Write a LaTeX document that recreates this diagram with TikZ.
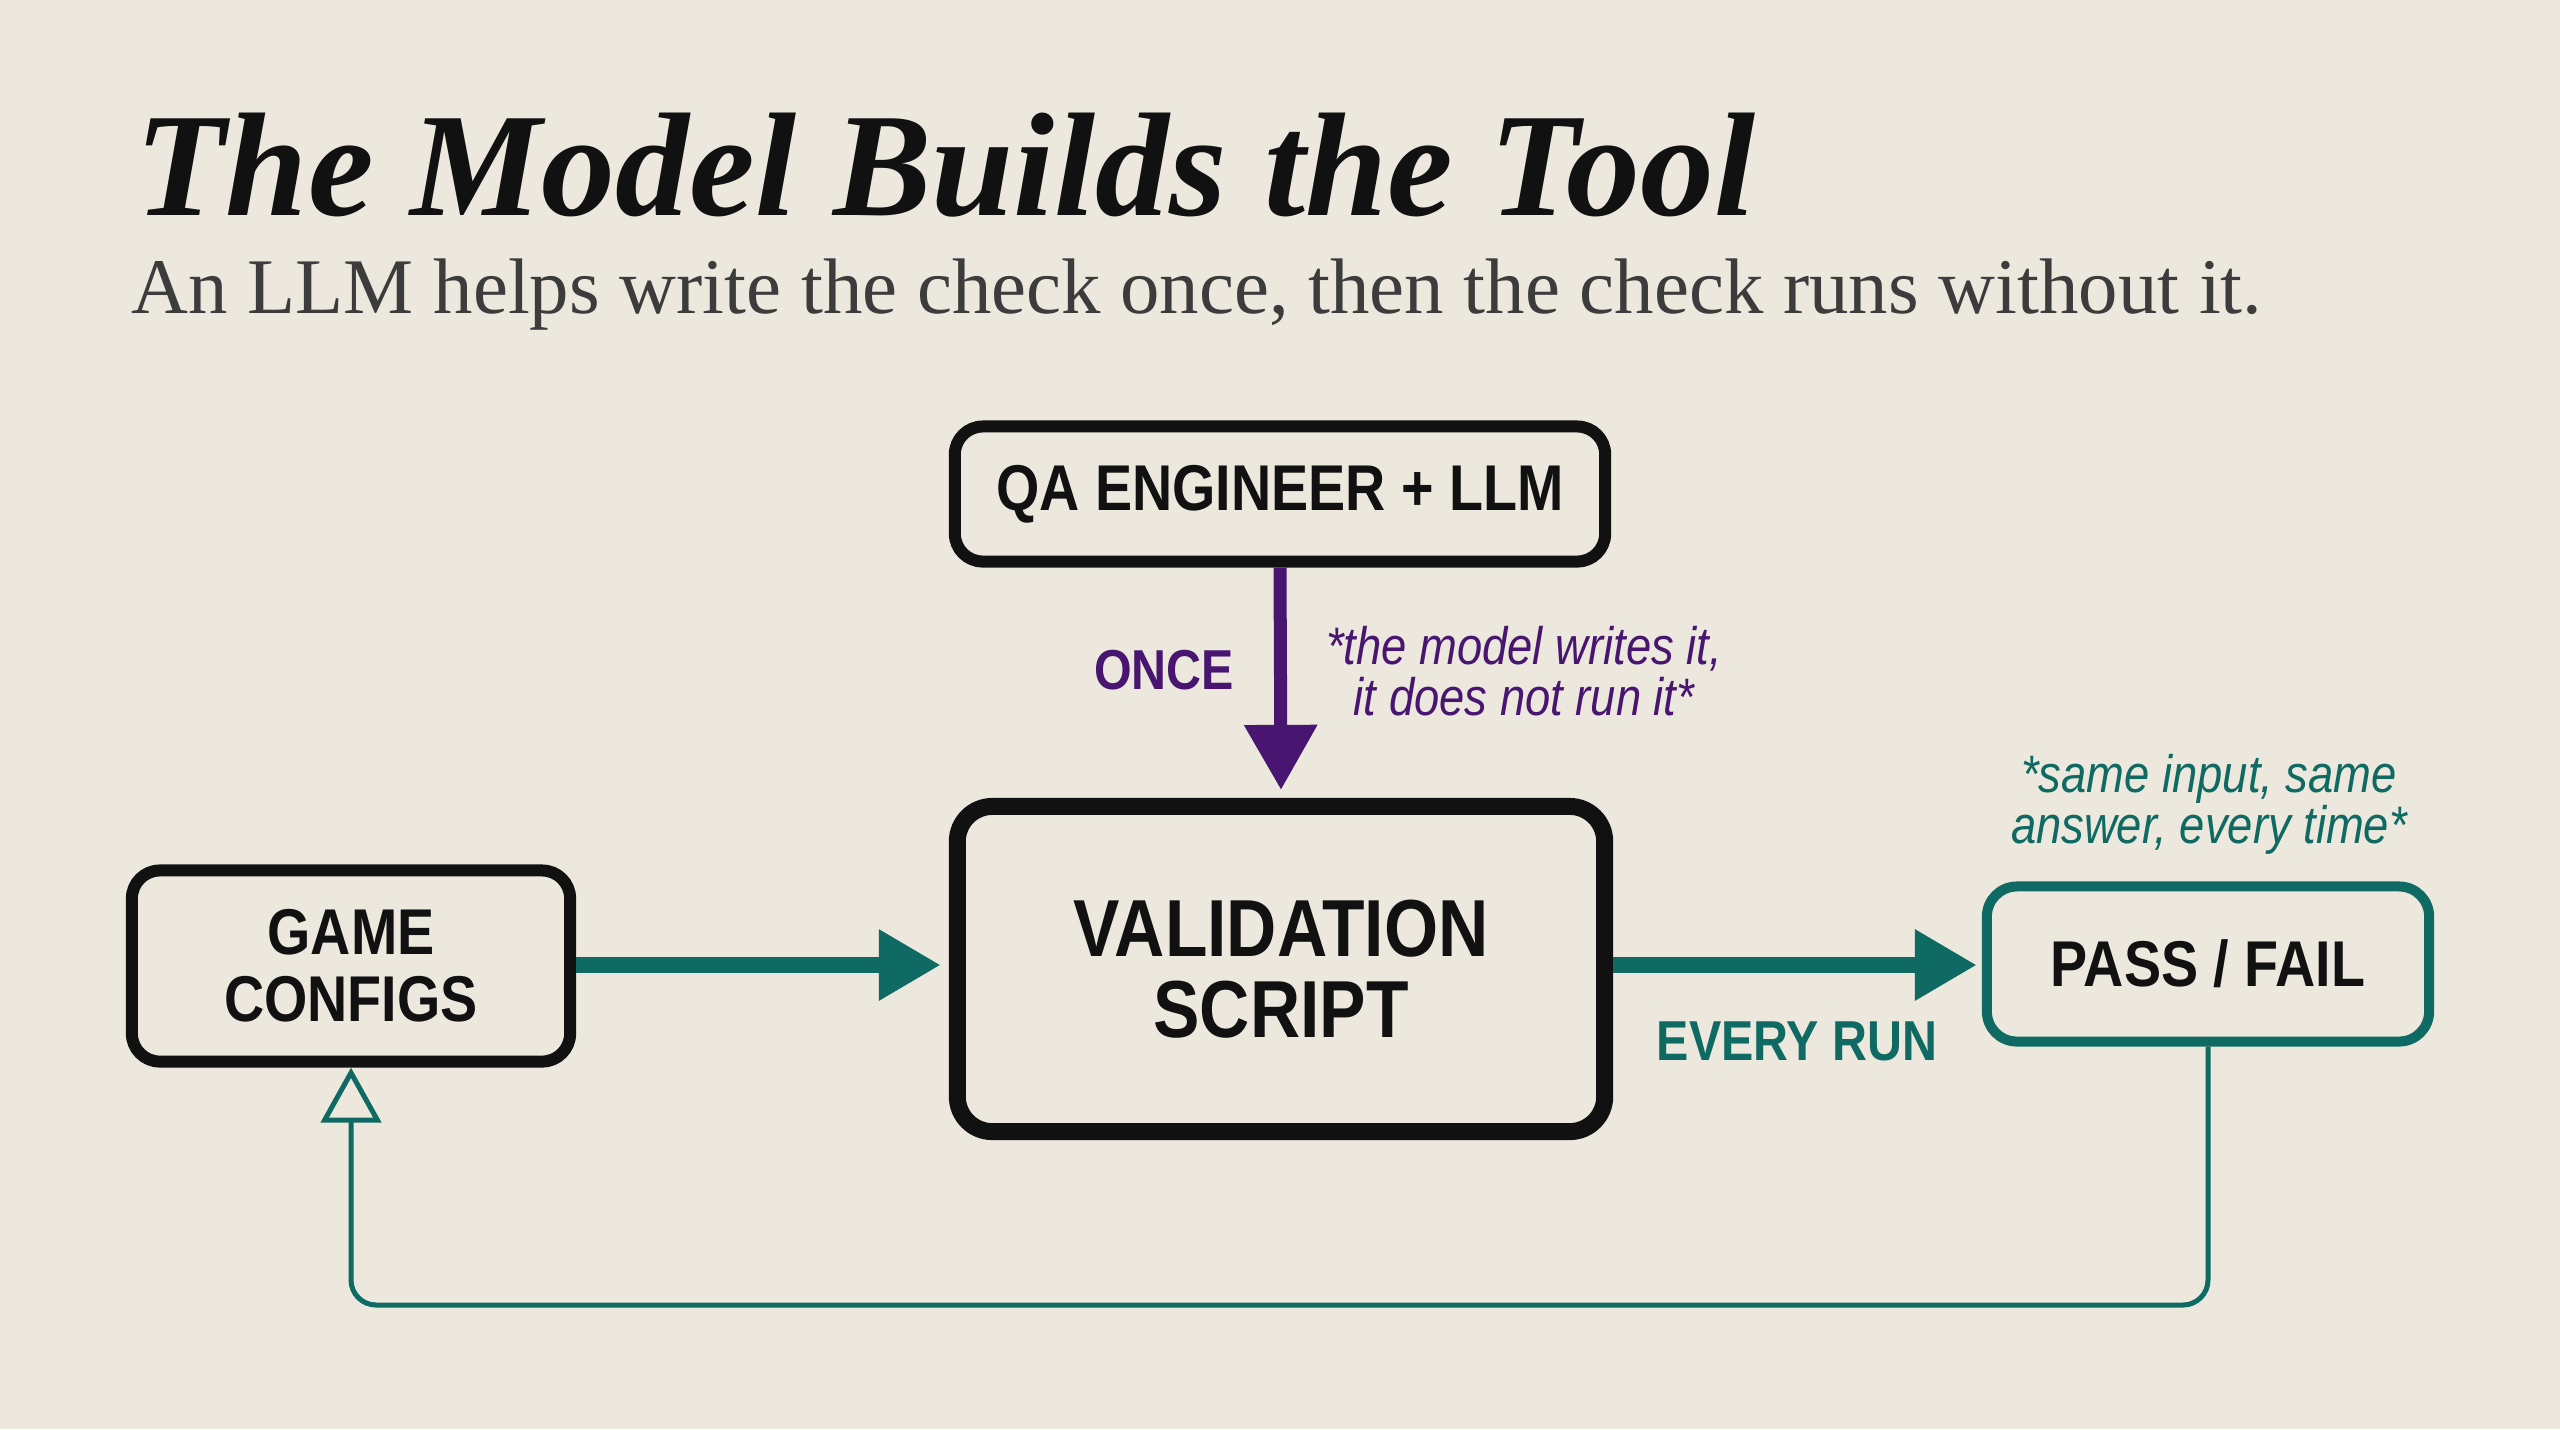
\documentclass[tikz,border=0pt]{standalone}
\usepackage{fontspec}
\setmainfont{Liberation Sans}[FakeStretch=0.86]
\newfontfamily\titre{Liberation Serif}
\newfontfamily\soustitre{Liberation Serif}
\usetikzlibrary{arrows.meta}
\definecolor{fond}{RGB}{236,232,221}
\definecolor{sarcelle}{RGB}{14,106,98}
\definecolor{pourpre}{RGB}{72,22,112}
\definecolor{encre}{RGB}{17,17,17}
\begin{document}
\begin{tikzpicture}[x=0.01cm,y=-0.01cm]
            \tikzstyle{boite}=[draw=encre,text=encre,line width=0.12cm,rounded corners=0.28cm,inner sep=0,align=center]
            \tikzset{fleche/.style = {-{Triangle[length=0.62cm,width=0.67cm]},line width=0.16cm,draw=sarcelle}}
            \tikzset{retour/.style = {-{Triangle[open,length=0.55cm,width=0.6cm]},line width=0.05cm,draw=sarcelle,rounded corners=0.25cm}}
            \fill[fond] (0,0) rectangle (2560,1429);
            % titre
            \node[anchor=base west,inner sep=0,text=encre,font=\titre\fontsize{42}{48}\selectfont\bfseries\itshape] (t) at (135,215) {The Model Builds the Tool};
            \node[anchor=base west,inner sep=0,text={rgb,255:red,60;green,60;blue,60},font=\soustitre\fontsize{22.4}{26}\selectfont] (st) at (131,313) {An LLM helps write the check once, then the check runs without it.};
            % boites
            \node[boite,minimum width=6.5cm,minimum height=1.35cm,font=\fontsize{18.4}{20}\selectfont\bfseries] (qa) at (1280,494) {QA ENGINEER + LLM};
            \node[boite,line width=0.17cm,rounded corners=0.35cm,minimum width=6.47cm,minimum height=3.25cm,font=\fontsize{23}{23}\selectfont\bfseries] (vs) at (1281,969) {VALIDATION\\SCRIPT};
            \node[boite,minimum width=4.38cm,minimum height=1.91cm,font=\fontsize{18.4}{19}\selectfont\bfseries] (gc) at (351,966) {GAME\\CONFIGS};
            \node[boite,draw=sarcelle,line width=0.1cm,rounded corners=0.3cm,minimum width=4.42cm,minimum height=1.55cm,font=\fontsize{18.4}{20}\selectfont\bfseries] (pf) at (2208,964) {PASS / FAIL};
            % fleches
            \draw[-{Triangle[length=0.65cm,width=0.7cm]},line width=0.13cm,draw=pourpre] (qa.south) -- ([yshift=0.08cm]vs.north);
            \coordinate (axe) at (0,965);
            \draw[fleche] (gc.east |- axe) -- ([xshift=-0.08cm]vs.west |- axe);
            \draw[fleche] (vs.east |- axe) -- ([xshift=-0.05cm]pf.west |- axe);
            \coordinate (bas) at (0,1305);
            \draw[retour] (pf.south) -- (pf.south |- bas) -- (gc.south |- bas) -- (gc.south);
            % etiquettes
            \node[text=pourpre,font=\fontsize{16}{18}\selectfont\bfseries] (o) at (1164,670) {ONCE};
            \node[text=pourpre,align=center,font=\fontsize{15}{14.5}\selectfont\itshape] (no) at (1524,671) {*the model writes it,\\it does not run it*};
            \node[text=sarcelle,font=\fontsize{16}{18}\selectfont\bfseries] (er) at (1797,1041) {EVERY RUN};
            \node[text=sarcelle,align=center,font=\fontsize{15}{14.5}\selectfont\itshape] (ns) at (2209,804) {*same input, same\\answer, every time*};
\end{tikzpicture}
\end{document}
